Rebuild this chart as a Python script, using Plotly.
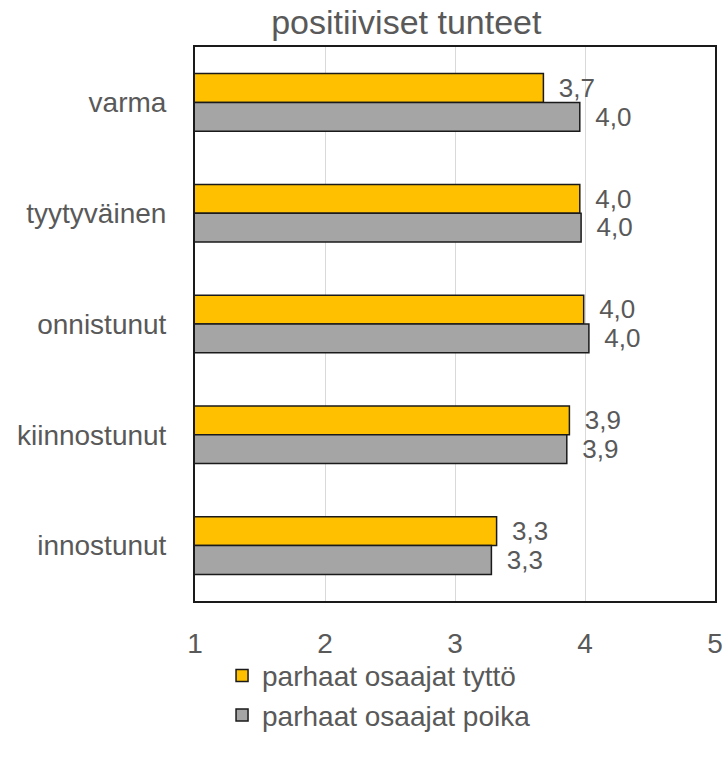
import plotly.graph_objects as go

categories = ["varma", "tyytyväinen", "onnistunut", "kiinnostunut", "innostunut"]
tytto = [3.68, 3.96, 3.99, 3.88, 3.32]
poika = [3.96, 3.97, 4.03, 3.86, 3.28]
series_names = ["parhaat osaajat tyttö", "parhaat osaajat poika"]
tick_vals = [1, 2, 3, 4, 5]

FONT = "Liberation Sans, Arial, sans-serif"
TXT = "#595959"

fig = go.Figure()
for name, vals, col in [(series_names[0], tytto, "#FFC000"), (series_names[1], poika, "#A5A5A5")]:
    fig.add_trace(go.Bar(
        y=categories, x=vals, orientation="h", name=name,
        marker=dict(color=col, line=dict(color="#1a1a1a", width=1.5)),
        texttemplate=" \u2009%{x:.1f}", textposition="outside", cliponaxis=False,
        textfont=dict(size=28, color=TXT, family=FONT),
    ))

fig.update_layout(
    width=723, height=762,
    margin=dict(l=195, r=8, t=47, b=161),
    paper_bgcolor="white", plot_bgcolor="white",
    separators=", ",
    barmode="group", bargap=0.48, bargroupgap=0,
    title=dict(text="positiiviset tunteet", x=0.562, xanchor="center", y=0.971, yanchor="middle",
               font=dict(size=34, color=TXT, family=FONT)),
    font=dict(family=FONT, color=TXT),
    showlegend=True,
    legend=dict(orientation="v", x=0.052, xanchor="left", y=-0.09, yanchor="top",
                font=dict(size=28, color=TXT, family=FONT), traceorder="normal",
                itemwidth=30, tracegroupgap=0, bgcolor="rgba(0,0,0,0)"),
)
fig.update_xaxes(range=[1, 5], tickvals=tick_vals, ticktext=[str(v) for v in tick_vals],
                 showgrid=True, gridcolor="#d9d9d9", gridwidth=1,
                 showline=True, linecolor="#1a1a1a", linewidth=2, mirror=True,
                 zeroline=False, ticks="", ticklabelstandoff=16, automargin=False,
                 tickfont=dict(size=28, color=TXT, family=FONT))
fig.update_yaxes(autorange="reversed", showline=True, linecolor="#1a1a1a", linewidth=2, mirror=True,
                 ticks="", ticklabelstandoff=21, automargin=False,
                 tickfont=dict(size=28, color=TXT, family=FONT))

fig.write_html("out.html", config={"displayModeBar": False},
               post_script="document.body.style.margin='0';")
